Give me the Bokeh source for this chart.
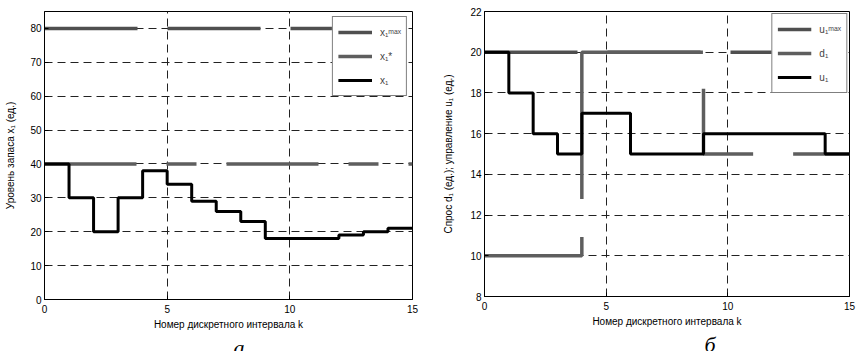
from bokeh.plotting import figure
from bokeh.layouts import row
from bokeh.models import Range1d, Legend, LegendItem, Title
from bokeh.embed import file_html
from bokeh.resources import INLINE

# ---- data ----
k_edges = list(range(16))          # interval boundaries 0..15
k_span = [0, 15]
x1 = [40, 30, 20, 30, 38, 34, 29, 26, 23, 18, 18, 18, 19, 20, 21]
x1_max = [80, 80]
x1_star = [40, 40]
u1 = [20, 18, 16, 15, 17, 17, 15, 15, 15, 16, 16, 16, 16, 16, 15]
d1 = [10, 10, 10, 10, 20, 20, 20, 20, 20, 15, 15, 15, 15, 15, 15]
u1_max = [20, 20]
x_ticks = [0, 5, 10, 15]
ya_ticks = [0, 10, 20, 30, 40, 50, 60, 70, 80]
yb_ticks = [8, 10, 12, 14, 16, 18, 20, 22]

FONT = "Liberation Sans"


def style(p, xticks, yticks, ylabel_standoff):
    p.background_fill_color = "white"
    p.border_fill_color = "white"
    p.outline_line_color = "black"
    p.outline_line_width = 1
    p.outline_line_alpha = 1
    for ax in (p.xaxis[0], p.yaxis[0]):
        ax.axis_line_color = "black"
        ax.major_tick_in = 4
        ax.major_tick_out = 0
        ax.minor_tick_line_color = None
        ax.major_label_text_font = FONT
        ax.major_label_text_font_size = "10px"
        ax.major_label_text_color = "black"
        ax.axis_label_text_font = FONT
        ax.axis_label_text_font_size = "10px"
        ax.axis_label_text_font_style = "normal"
        ax.axis_label_text_color = "black"
    p.xaxis.ticker = xticks
    p.yaxis.ticker = yticks
    p.xaxis.major_label_standoff = 5
    p.xaxis.axis_label_standoff = 3
    p.yaxis.major_label_standoff = 3
    p.yaxis.axis_label_standoff = ylabel_standoff
    for g in (p.xgrid[0], p.ygrid[0]):
        g.grid_line_color = "#222222"
        g.grid_line_dash = "8 5"
        g.grid_line_width = 1


def make_legend(items, margin):
    return Legend(items=items, location="top_right", margin=margin, padding=5, spacing=4,
                  glyph_width=34, glyph_height=20, label_height=20, label_standoff=8,
                  label_text_font=FONT, label_text_font_size="10px",
                  border_line_color="black", border_line_width=1,
                  background_fill_color="white", background_fill_alpha=1)


def caption(text, offset):
    return Title(text=text, align="left", offset=offset, standoff=0,
                 text_font="Liberation Serif", text_font_style="italic",
                 text_font_size="22px", text_color="black")


# ---- panel a ----
pa = figure(frame_width=368, frame_height=288, min_border_left=44, min_border_right=28,
            min_border_top=8, min_border_bottom=55,
            x_range=Range1d(0, 15), y_range=Range1d(0, 85),
            output_backend="svg", toolbar_location=None)
style(pa, x_ticks, ya_ticks, 11)
pa.xaxis.axis_label = "Номер дискретного интервала k"
pa.yaxis.axis_label = "Уровень запаса x₁ (ед.)"

ra1 = pa.line(k_span, x1_max, line_color="#4f4f4f", line_width=3.5, line_dash="93 30")
ra2 = pa.line(k_span, x1_star, line_color="#5e5e5e", line_width=3.5, line_dash="92 30 30 30")
ra3 = pa.step(k_edges, x1 + [x1[-1]], mode="after", line_color="black", line_width=3)

pa.add_layout(make_legend([LegendItem(label="x₁ᵐᵃˣ", renderers=[ra1]),
                           LegendItem(label="x₁*", renderers=[ra2]),
                           LegendItem(label="x₁", renderers=[ra3])], 5))
pa.add_layout(caption("a", 189), "below")

# ---- panel b ----
pb = figure(frame_width=365, frame_height=285, min_border_left=43, min_border_right=8,
            min_border_top=11, min_border_bottom=55,
            x_range=Range1d(0, 15), y_range=Range1d(8, 22),
            output_backend="svg", toolbar_location=None)
style(pb, x_ticks, yb_ticks, 13)
pb.xaxis.axis_label = "Номер дискретного интервала k"
pb.yaxis.axis_label = "Спрос d₁ (ед.); управление u₁ (ед.)"

rb1 = pb.line(k_span, u1_max, line_color="#4f4f4f", line_width=3.5, line_dash="93 30")
rb2 = pb.step(k_edges, d1 + [d1[-1]], mode="after", line_color="#5e5e5e", line_width=3.5,
              line_dash="116 38 268 37 115 40 200 10")
rb3 = pb.step(k_edges, u1 + [u1[-1]], mode="after", line_color="black", line_width=3)

pb.add_layout(make_legend([LegendItem(label="u₁ᵐᵃˣ", renderers=[rb1]),
                           LegendItem(label="d₁", renderers=[rb2]),
                           LegendItem(label="u₁", renderers=[rb3])], 2))
pb.add_layout(caption("б", 220), "below")

layout = row(pa, pb)
open("out.html", "w").write(file_html(layout, INLINE))
